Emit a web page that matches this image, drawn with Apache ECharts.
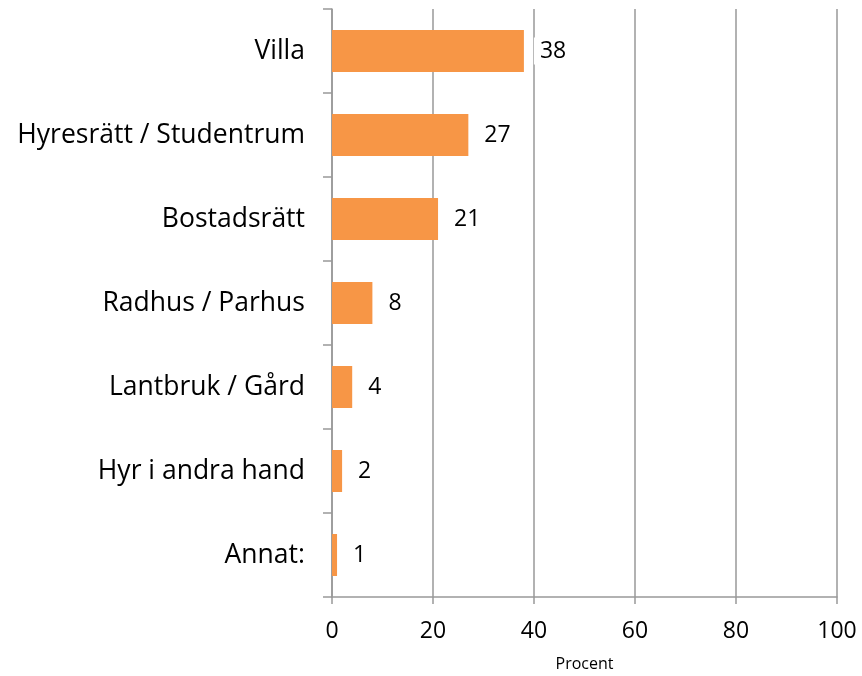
<!DOCTYPE html>
<html>
<head>
<meta charset="utf-8">
<script src="https://cdn.jsdelivr.net/npm/echarts@6/dist/echarts.min.js"></script>
<style>
  html, body { margin: 0; padding: 0; background: #fff; }
  #chart { width: 862px; height: 676px; }
</style>
</head>
<body>
<div id="chart"></div>
<script>
// kategorier uppifrån och ned
const categories = ['Villa', 'Hyresrätt / Studentrum', 'Bostadsrätt', 'Radhus / Parhus', 'Lantbruk / Gård', 'Hyr i andra hand', 'Annat:']
const values = [38, 27, 21, 8, 4, 2, 1]
const xTicks = [0, 20, 40, 60, 80, 100]

const font = '"Open Sans", "Noto Sans", sans-serif'
const chart = echarts.init(document.getElementById('chart'))

const option = {
    animation: false,
    textStyle: { fontFamily: font },
    grid: {
        left: 332,
        right: 25,
        top: 9,
        bottom: 79,
        outerBoundsMode: 'none',
        containLabel: false,
    },
    xAxis: {
        type: 'value',
        min: xTicks[0],
        max: xTicks[xTicks.length - 1],
        interval: 20,
        name: 'Procent',
        nameLocation: 'middle',
        nameGap: 59,
        nameTextStyle: { fontSize: 16, color: '#000', fontFamily: font },
        axisLine: { show: true, lineStyle: { color: '#999', width: 1.5 } },
        axisTick: { show: true, length: 7, lineStyle: { color: '#999', width: 1.5 } },
        axisLabel: { fontSize: 23, color: '#000', margin: 23, fontFamily: font },
        splitLine: { show: true, lineStyle: { color: '#999', width: 1.5 } },
    },
    yAxis: {
        type: 'category',
        inverse: true,
        data: categories,
        axisLine: { show: true, lineStyle: { color: '#999', width: 1.5 } },
        axisTick: { show: true, length: 9, lineStyle: { color: '#999', width: 1.5 } },
        axisLabel: { fontSize: 26.5, color: '#000', margin: 27, fontFamily: font },
    },
    series: [
        {
            type: 'bar',
            data: values,
            barWidth: '50%',
            itemStyle: { color: '#F79646' },
            label: {
                show: true,
                position: 'right',
                distance: 10,
                fontSize: 23,
                color: '#000',
                fontFamily: font,
                backgroundColor: '#fff',
                padding: [2, 6],
            },
        },
    ],
}
chart.setOption(option)
</script>
</body>
</html>
